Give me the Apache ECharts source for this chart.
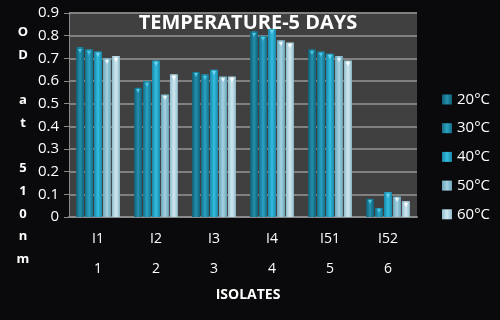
<!DOCTYPE html>
<html>
<head>
<meta charset="utf-8">
<script src="https://cdn.jsdelivr.net/npm/echarts@6/dist/echarts.min.js"></script>
</head>
<body style="margin:0;background:#0a0a0c">
<div id="container" style="width:500px;height:320px"></div>
<script type="text/javascript">
var isolates = ['I1', 'I2', 'I3', 'I4', 'I51', 'I52'];
var numbers = ['1', '2', '3', '4', '5', '6'];
var temps = ['20°C', '30°C', '40°C', '50°C', '60°C'];

var t20 = [0.75, 0.57, 0.64, 0.82, 0.74, 0.08];
var t30 = [0.74, 0.60, 0.63, 0.80, 0.73, 0.04];
var t40 = [0.73, 0.69, 0.65, 0.83, 0.72, 0.11];
var t50 = [0.70, 0.54, 0.62, 0.78, 0.71, 0.09];
var t60 = [0.71, 0.63, 0.62, 0.77, 0.69, 0.07];

var values = [t20, t30, t40, t50, t60];

// [edge, middle] colours of each bar
var colors = [
    ['#0f5f75', '#2590ad'],
    ['#146f88', '#2aa3c2'],
    ['#1a87a8', '#33bde0'],
    ['#6aa5ba', '#a5d2e2'],
    ['#90bccb', '#d0e8f0']
];
var topMark = ['#4cc3e0', '#4cc3e0', '#6fd3ec', '#e8f4f8', '#ffffff'];

var font = 'Open Sans';

var dom = document.getElementById('container');
var myChart = echarts.init(dom);

var series = [];
for (var i = 0; i < temps.length; i++) {
    series.push({
        name: temps[i],
        type: 'bar',
        data: values[i],
        barWidth: 8,
        barGap: '12%',
        itemStyle: {
            color: new echarts.graphic.LinearGradient(0, 0, 1, 0, [
                { offset: 0, color: colors[i][0] },
                { offset: 0.5, color: colors[i][1] },
                { offset: 1, color: colors[i][0] }
            ])
        },
        label: {
            show: true,
            position: 'insideTop',
            distance: 0,
            formatter: '▼',
            fontSize: 7,
            color: topMark[i]
        }
    });
}

var option = {
    backgroundColor: '#0a0a0c',
    animation: false,
    textStyle: { fontFamily: font },
    title: [{
        text: 'TEMPERATURE-5 DAYS',
        left: 243,
        top: 8,
        textAlign: 'center',
        textStyle: { color: '#ffffff', fontSize: 20, fontWeight: 'bold', fontFamily: font }
    }, {
        text: 'O\nD\n\na\nt\n\n5\n1\n0\nn\nm',
        left: 18,
        top: 16,
        textAlign: 'center',
        textStyle: { color: '#ffffff', fontSize: 13, fontWeight: 'bold', lineHeight: 22.7, fontFamily: font }
    }, {
        text: 'ISOLATES',
        left: 243,
        top: 283,
        textAlign: 'center',
        textStyle: { color: '#ffffff', fontSize: 14, fontWeight: 'bold', fontFamily: font }
    }],
    legend: {
        orient: 'vertical',
        left: 442,
        top: 92,
        padding: 0,
        itemGap: 13.7,
        itemWidth: 10,
        itemHeight: 10,
        icon: 'rect',
        textStyle: { color: '#ffffff', fontSize: 15, fontFamily: font },
        data: temps
    },
    grid: {
        left: 69,
        right: 83,
        top: 13,
        bottom: 103,
        show: true,
        backgroundColor: '#404040',
        borderWidth: 0
    },
    xAxis: [{
        type: 'category',
        data: isolates,
        position: 'bottom',
        axisLine: { lineStyle: { color: '#8a8a8a', width: 2 } },
        axisTick: { length: 60, lineStyle: { color: '#8a8a8a' } },
        axisLabel: { color: '#ffffff', fontSize: 14, margin: 15 }
    }, {
        type: 'category',
        data: numbers,
        position: 'bottom',
        offset: 30,
        axisLine: { show: false },
        axisTick: { show: false },
        axisLabel: { color: '#ffffff', fontSize: 14, margin: 15 }
    }],
    yAxis: {
        type: 'value',
        min: 0,
        max: 0.9,
        interval: 0.1,
        axisLine: { show: true, lineStyle: { color: '#8a8a8a' } },
        axisTick: { show: true, length: 5, lineStyle: { color: '#8a8a8a' } },
        axisLabel: {
            color: '#ffffff',
            fontSize: 15,
            margin: 10,
            formatter: function (v) { return v === 0 ? '0' : v.toFixed(1); }
        },
        splitLine: { lineStyle: { color: '#808080', width: 2 } }
    },
    series: series
};

myChart.setOption(option);
</script>
</body>
</html>
